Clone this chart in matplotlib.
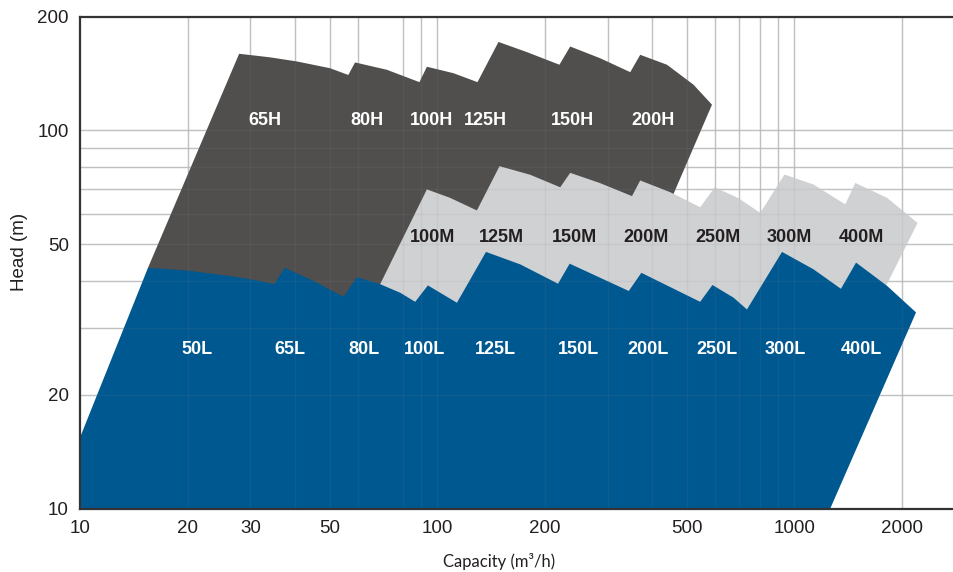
import matplotlib
matplotlib.use("Agg")
import matplotlib.pyplot as plt
from matplotlib.patches import Polygon
from matplotlib.ticker import FixedLocator, NullLocator, FixedFormatter

# ---------------- data ----------------
# L range (blue) outline: capacity (m3/h), head (m)
l_q = [10, 15.5, 19.9, 26.3, 31.3, 35.0, 37.4, 45.0, 54.7, 59.6, 69.2, 78.8, 86.8,
       94.2, 113.6, 137, 171, 218, 235, 344, 373, 545, 590, 676, 737, 924, 1132,
       1351, 1489, 1818, 2192, 1261, 10]
l_h = [15.4, 43.3, 42.6, 41.2, 40.1, 39.2, 43.3, 40.0, 36.3, 40.9, 39.2, 37.2, 35.2,
       38.9, 35.0, 47.7, 44.2, 39.3, 44.4, 37.6, 42.0, 35.2, 39.0, 36.1, 33.6, 47.7, 42.9,
       38.1, 44.7, 38.8, 33.0, 10, 10]

# M range (light grey) outline
m_q = [63.6, 93.6, 108.7, 129.2, 149.5, 182.2, 221.1, 235.8, 286.1, 351.2, 370.3,
       449.5, 545.3, 598.8, 696.8, 803, 939, 1132, 1389, 1482, 1818, 2214, 1515]
m_h = [33.3, 69.8, 66.3, 61.4, 80.4, 76.3, 70.7, 77.2, 72.5, 67.0, 73.7,
       68.6, 62.6, 70.7, 66.2, 60.5, 76.4, 71.9, 63.7, 72.6, 66.3, 56.9, 27.8]

# H range (dark grey) outline
h_q = [16.75, 15.5, 27.9, 34.0, 40.5, 50.1, 56.4, 58.9, 72.3, 89.2, 93.6, 111.1, 129.7,
       148.5, 178.4, 220.0, 235.8, 286.1, 347.3, 370.3, 440, 522.3, 588.2, 459, 325]
h_h = [33.3, 43.3, 159.4, 156.0, 152.1, 146.0, 140.1, 151.2, 144.6, 134.1, 147.3, 141.6, 134.1,
       171.3, 161.0, 149.1, 166.6, 155.1, 142.5, 158.4, 149.1, 132.0, 116.9, 67.9, 33.3]

h_labels = ["65H", "80H", "100H", "125H", "150H", "200H"]
h_label_q = [33.0, 63.6, 96.2, 136.3, 239.7, 402.7]
h_label_h = 106.3

m_labels = ["100M", "125M", "150M", "200M", "250M", "300M", "400M"]
m_label_q = [97.0, 151.8, 242, 384.2, 610.5, 968, 1545]
m_label_h = 52.2

l_labels = ["50L", "65L", "80L", "100L", "125L", "150L", "200L", "250L", "300L", "400L"]
l_label_q = [21.3, 38.6, 62.3, 92.1, 145.8, 249.4, 390, 608.5, 942, 1543]
l_label_h = 26.4

x_ticks = [10, 20, 30, 50, 100, 200, 500, 1000, 2000]
y_ticks = [10, 20, 50, 100, 200]
x_grid = [20, 30, 40, 50, 60, 80, 90, 100, 200, 300, 400, 500, 600, 700, 800, 900, 1000, 2000]
y_grid = [20, 30, 40, 50, 60, 70, 80, 90, 100]

# ---------------- style ----------------
C_BLUE = "#005891"
C_DARK = "#504f4d"
C_LIGHT = "#d0d1d3"
C_GRID = "#c9c9cb"

plt.rcParams['font.family'] = ['Liberation Sans', 'DejaVu Sans']

fig = plt.figure(figsize=(9.54, 5.72), dpi=100)
ax = fig.add_axes([80 / 954, (572 - 508.5) / 572, 874 / 954, 492 / 572])
ax.set_xscale("log")
ax.set_yscale("log")
ax.set_xlim(10, 2800)
ax.set_ylim(10, 200)

for xv in x_grid:
    ax.axvline(xv, color=C_GRID, lw=1.0, zorder=0)
    ax.axvline(xv, color="#7f8890", lw=1.0, alpha=0.12, zorder=4)
for yv in y_grid:
    ax.axhline(yv, color=C_GRID, lw=1.0, zorder=0)
    ax.axhline(yv, color="#7f8890", lw=1.0, alpha=0.12, zorder=4)

ax.add_patch(Polygon(list(zip(h_q, h_h)), closed=True, facecolor=C_DARK,
                     edgecolor="none", zorder=1))
ax.add_patch(Polygon(list(zip(m_q, m_h)), closed=True, facecolor=C_LIGHT,
                     edgecolor="none", zorder=2))
ax.add_patch(Polygon(list(zip(l_q, l_h)), closed=True, facecolor=C_BLUE,
                     edgecolor="none", zorder=3))

lab_kw = dict(ha="center", va="center", fontsize=13, fontweight="bold", zorder=5)
for t, q in zip(h_labels, h_label_q):
    ax.text(q, h_label_h, t, color="white", **lab_kw)
for t, q in zip(m_labels, m_label_q):
    ax.text(q, m_label_h, t, color="#231f20", **lab_kw)
for t, q in zip(l_labels, l_label_q):
    ax.text(q, l_label_h, t, color="white", **lab_kw)

ax.xaxis.set_major_locator(FixedLocator(x_ticks))
ax.xaxis.set_major_formatter(FixedFormatter([str(v) for v in x_ticks]))
ax.xaxis.set_minor_locator(NullLocator())
ax.yaxis.set_major_locator(FixedLocator(y_ticks))
ax.yaxis.set_major_formatter(FixedFormatter([str(v) for v in y_ticks]))
ax.yaxis.set_minor_locator(NullLocator())
ax.tick_params(axis="both", length=0, labelsize=13.5, colors="#231f20")
ax.tick_params(axis="x", pad=8)
ax.tick_params(axis="y", pad=8)

for s in ["left", "bottom", "top"]:
    ax.spines[s].set_color("#333333")
    ax.spines[s].set_linewidth(1.6)
    ax.spines[s].set_zorder(6)
ax.spines["right"].set_visible(False)

fig.text(20 / 954, 1 - 252 / 572, "Head (m)", rotation=90, ha="center", va="center",
         fontsize=13.5, color="#231f20")
fig.text(499 / 954, 1 - 561 / 572, "Capacity (m³/h)", ha="center", va="center",
         fontsize=12, color="#231f20", family=["Lato", "DejaVu Sans"])

fig.savefig("out.png", dpi=100)
